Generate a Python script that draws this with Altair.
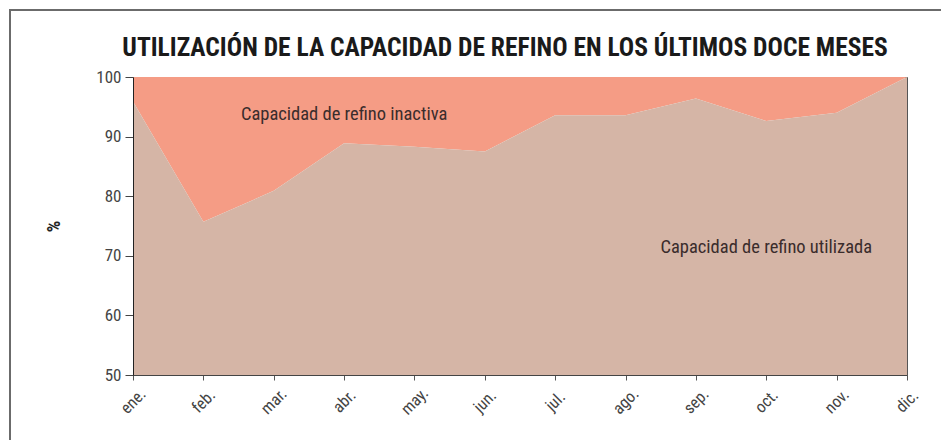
import altair as alt
import pandas as pd

meses = ["ene.", "feb.", "mar.", "abr.", "may.", "jun.", "jul.", "ago.", "sep.", "oct.", "nov.", "dic."]
utilizada = [95.9, 75.7, 80.9, 88.9, 88.3, 87.5, 93.6, 93.6, 96.4, 92.6, 94.0, 100.0]

etiquetas = ["Capacidad de refino inactiva", "Capacidad de refino utilizada"]
etiqueta_mes = ["abr.", "oct."]
etiqueta_valor = [93.8, 71.5]

FONT = "Liberation Sans Narrow, Roboto Condensed, DejaVu Sans Condensed, sans-serif"

df = pd.DataFrame({"mes": meses, "valor": utilizada})
df_lab = pd.DataFrame({"texto": etiquetas, "mes": etiqueta_mes, "valor": etiqueta_valor})

x_enc = alt.X(
    "mes:O", sort=meses, scale=alt.Scale(padding=0), title=None,
    axis=alt.Axis(labelAngle=-45, labelAlign="center", labelBaseline="middle",
                  labelPadding=21, tickSize=5, domain=True, grid=False,
                  labelFont=FONT, labelFontSize=16.5, labelColor="#444444",
                  labelOverlap=False, zindex=1,
                  tickColor="#555555", domainColor="#444444"),
)
y_enc = alt.Y(
    "valor:Q", scale=alt.Scale(domain=[50, 100], zero=False, nice=False),
    title="%",
    axis=alt.Axis(values=[50, 60, 70, 80, 90, 100], tickSize=8, labelPadding=4,
                  grid=False, labelFont=FONT, labelFontSize=17, labelColor="#444444",
                  titleFont=FONT, titleFontSize=18, titleFontWeight="bold",
                  titleColor="#222222", titleAngle=-90, titlePadding=32, zindex=1,
                  tickColor="#444444", domainColor="#222222"),
)

inactiva = alt.Chart(df).mark_area(color="#F59C85", opacity=1).encode(
    x=x_enc, y=y_enc, y2=alt.datum(100)
)
usada = alt.Chart(df).mark_area(color="#D5B5A6", opacity=1).encode(
    x=x_enc, y=y_enc, y2=alt.datum(50)
)
textos = alt.Chart(df_lab).mark_text(font=FONT, fontSize=18.5, color="#3a2c2c").encode(
    x=alt.X("mes:O", sort=meses), y=alt.Y("valor:Q"), text="texto:N"
)
marco = alt.Chart(pd.DataFrame({"k": [0]})).mark_rect(
    fill=None, stroke="#6b6b6b", strokeWidth=2, clip=False
).encode(x=alt.value(-123), x2=alt.value(810), y=alt.value(-67), y2=alt.value(400))

chart = alt.layer(inactiva, usada, textos, marco).properties(
    width=774, height=298,
    title=alt.TitleParams(
        "UTILIZACIÓN DE LA CAPACIDAD DE REFINO EN LOS ÚLTIMOS DOCE MESES",
        font=FONT, fontSize=25.5, fontWeight="bold", color="#1a1a1a",
        anchor="middle", offset=-77, dx=-15, baseline="bottom",
    ),
    autosize=alt.AutoSizeParams(type="none"),
    padding={"left": 125, "top": 69, "right": 34, "bottom": 80},
).configure_view(stroke="#555555", strokeWidth=1)

chart.save("out.html", embed_options={"renderer": "svg", "actions": False})
